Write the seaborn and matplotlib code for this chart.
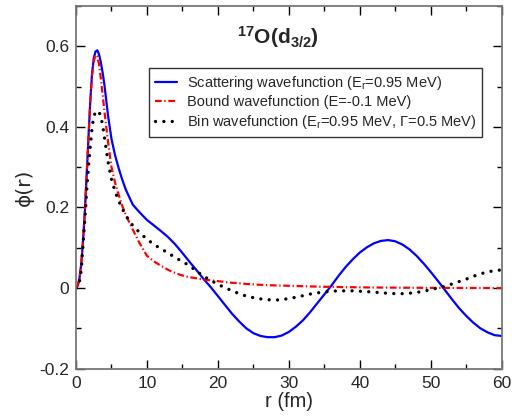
import matplotlib
matplotlib.use("Agg")
import matplotlib.pyplot as plt
from matplotlib.ticker import MultipleLocator
import pandas as pd
import seaborn as sns

# radial grid (fm)
r = [0, 0.25, 0.5, 0.75, 1.0, 1.25, 1.5, 1.75, 2.0, 2.25, 2.5, 2.75, 3.0, 3.25,
     3.5, 3.75, 4.0, 4.5, 5.0, 5.5, 6.0, 6.5, 7.0, 8, 9, 10, 11, 12, 13, 14, 15,
     16, 17, 18, 19, 20, 21, 22, 23, 24, 25, 26, 27, 28, 29, 30, 31, 32, 33, 34,
     35, 36, 37, 38, 39, 40, 41, 42, 43, 44, 45, 46, 47, 48, 49, 50, 51, 52, 53,
     54, 55, 56, 57, 58, 59, 60]

# scattering wavefunction, E_r = 0.95 MeV
phi_scatt = [0.000, 0.006, 0.025, 0.062, 0.120, 0.190, 0.280, 0.370, 0.460, 0.530,
             0.570, 0.587, 0.590, 0.580, 0.560, 0.535, 0.505, 0.430, 0.370, 0.330,
             0.298, 0.270, 0.245, 0.207, 0.187, 0.169, 0.155, 0.141, 0.126, 0.108,
             0.087, 0.065, 0.044, 0.022, 0.002, -0.020, -0.042, -0.064, -0.083,
             -0.100, -0.112, -0.119, -0.122, -0.122, -0.118, -0.109, -0.096, -0.080,
             -0.060, -0.038, -0.016, 0.006, 0.030, 0.052, 0.071, 0.088, 0.101, 0.111,
             0.117, 0.119, 0.116, 0.108, 0.096, 0.080, 0.061, 0.040, 0.018, -0.005,
             -0.028, -0.050, -0.069, -0.086, -0.100, -0.110, -0.117, -0.119]

# bound wavefunction, E = -0.1 MeV
phi_bound = [0.000, 0.006, 0.025, 0.062, 0.120, 0.190, 0.280, 0.370, 0.460, 0.525,
             0.563, 0.578, 0.575, 0.555, 0.520, 0.480, 0.440, 0.365, 0.300, 0.262,
             0.232, 0.205, 0.182, 0.145, 0.110, 0.080, 0.066, 0.055, 0.045, 0.037,
             0.031, 0.027, 0.024, 0.021, 0.019, 0.017, 0.015, 0.013, 0.012, 0.010,
             0.009, 0.008, 0.007, 0.0065, 0.006, 0.0055, 0.005, 0.0045, 0.004,
             0.0035, 0.003, 0.003, 0.0025, 0.002, 0.002, 0.0018, 0.0015, 0.0013,
             0.0012, 0.001, 0.001, 0.0008, 0.0007, 0.0006, 0.0005, 0.0004, 0.0003,
             0.0003, 0.0002, 0.0002, 0.0001, 0.0001, 0.0001, 0.0, 0.0, 0.0]

# bin wavefunction, E_r = 0.95 MeV, Gamma = 0.5 MeV
phi_bin = [0.000, 0.004, 0.018, 0.045, 0.110, 0.170, 0.240, 0.300, 0.350, 0.395,
           0.425, 0.437, 0.440, 0.437, 0.425, 0.405, 0.375, 0.315, 0.270, 0.240,
           0.217, 0.198, 0.180, 0.155, 0.137, 0.121, 0.108, 0.097, 0.087, 0.075,
           0.066, 0.055, 0.042, 0.029, 0.019, 0.009, 0.001, -0.007, -0.014, -0.020,
           -0.024, -0.027, -0.029, -0.030, -0.029, -0.026, -0.023, -0.019, -0.015,
           -0.012, -0.010, -0.008, -0.007, -0.007, -0.007, -0.008, -0.009, -0.010,
           -0.012, -0.013, -0.014, -0.014, -0.013, -0.011, -0.008, -0.004, 0.000,
           0.004, 0.010, 0.016, 0.022, 0.029, 0.035, 0.040, 0.043, 0.045]

labels = ["Scattering wavefunction (E$_\\mathrm{r}$=0.95 MeV)",
          "Bound wavefunction (E=-0.1 MeV)",
          "Bin wavefunction (E$_\\mathrm{r}$=0.95 MeV, \u0393=0.5 MeV)"]

xticks = [0, 10, 20, 30, 40, 50, 60]
xtick_labels = ["0", "10", "20", "30", "40", "50", "60"]
yticks = [-0.2, 0.0, 0.2, 0.4, 0.6]
ytick_labels = ["-0.2", "0", "0.2", "0.4", "0.6"]

sns.set_theme(style="ticks")
plt.rcParams["font.family"] = ["Liberation Sans", "DejaVu Sans"]
plt.rcParams["mathtext.fontset"] = "custom"
plt.rcParams["mathtext.rm"] = "Liberation Sans"
plt.rcParams["mathtext.it"] = "Liberation Sans:italic"
plt.rcParams["mathtext.bf"] = "Liberation Sans:bold"

df = pd.DataFrame({"r": r, "scatt": phi_scatt, "bound": phi_bound, "bin": phi_bin})

fig = plt.figure(figsize=(5.22, 4.19), dpi=100)
ax = fig.add_axes([0.1456, 0.1203, 0.8154, 0.8654])

sns.lineplot(data=df, x="r", y="scatt", ax=ax, color="#0000ff", lw=1.6,
             label=labels[0])
sns.lineplot(data=df, x="r", y="bound", ax=ax, color="#ff0000", lw=1.6,
             linestyle=(0, (3.0, 1.2, 0.6, 1.2)), label=labels[1])
sns.lineplot(data=df, x="r", y="bin", ax=ax, color="black", lw=2.4,
             linestyle=(0, (0.01, 2.5)), dash_capstyle="round", label=labels[2])

ax.set_xlim(0, 60)
ax.set_ylim(-0.2, 0.7)
ax.set_xticks(xticks)
ax.set_xticklabels(xtick_labels)
ax.set_yticks(yticks)
ax.set_yticklabels(ytick_labels)
ax.xaxis.set_minor_locator(MultipleLocator(5))
ax.yaxis.set_minor_locator(MultipleLocator(0.1))
ax.tick_params(which="both", direction="in", top=True, right=True,
               color="black", width=1.0, labelsize=12.5, pad=5)
ax.tick_params(which="major", length=6.5)
ax.tick_params(which="minor", length=3.3)
for s in ax.spines.values():
    s.set_color("#777777")
    s.set_linewidth(1.3)

ax.set_xlabel("r (fm)", fontsize=14.5, labelpad=1)
ax.set_ylabel("\u03d5(r)", fontsize=14.5, labelpad=4,
              family=["DejaVu Sans", "Liberation Sans"])

ax.text(0.475, 0.915, r"$\mathbf{{}^{17}O(d_{3/2})}$", transform=ax.transAxes,
        ha="center", va="center", fontsize=15)

leg = ax.legend(loc="upper right", bbox_to_anchor=(0.954, 0.829),
                borderaxespad=0, fontsize=10.5, frameon=True, fancybox=False,
                framealpha=1, edgecolor="#333333", handlelength=1.5,
                handletextpad=0.7, labelspacing=0.25, borderpad=0.4)
leg.get_frame().set_linewidth(1.0)

fig.savefig("out.png", dpi=100)
